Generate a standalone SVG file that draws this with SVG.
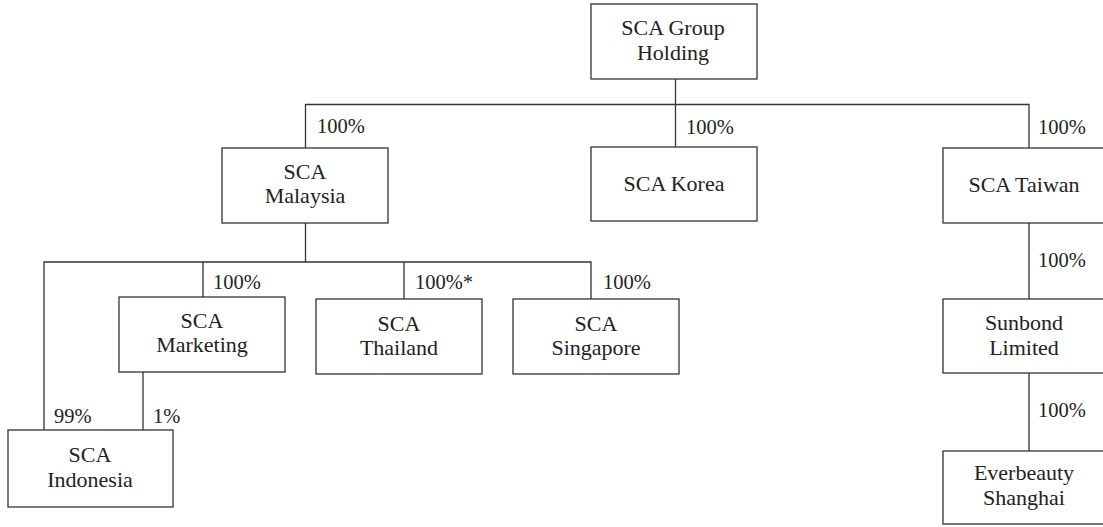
<svg xmlns="http://www.w3.org/2000/svg" width="1103" height="527" viewBox="0 0 1103 527" font-family="Liberation Serif, Times New Roman, Times, serif" font-size="22">
<style>
.box{fill:#fff;stroke:#333;stroke-width:1.3}
.ln{fill:none;stroke:#333;stroke-width:1.3}
.t{fill:#222}
.p{fill:#222;font-size:20.5px}
.c{text-anchor:middle}
</style>
<rect width="1103" height="527" fill="#fff"/>
<g id="connectors" class="ln">
<path d="M675.5 79V104.5M305.5 148V104.5H1029V148M675.5 104.5V147"/>
<path d="M305.5 223V262M44 430V262H591V299M203 262V297M404 262V299"/>
<path d="M143 372V430"/>
<path d="M1029 223V299M1029 373V451"/>
</g>
<g id="labels" class="p">
<text x="317" y="133">100%</text>
<text x="686" y="134">100%</text>
<text x="1038" y="134">100%</text>
<text x="213" y="289">100%</text>
<text x="415" y="289">100%*</text>
<text x="603" y="289">100%</text>
<text x="54" y="423">99%</text>
<text x="153" y="423">1%</text>
<text x="1038" y="267">100%</text>
<text x="1038" y="417">100%</text>
</g>
<g id="holding" class="t"><rect class="box" x="591" y="4" width="166" height="75"/><text class="c" x="673" y="35">SCA Group</text><text class="c" x="673" y="60">Holding</text></g>
<g id="malaysia" class="t"><rect class="box" x="222" y="148" width="166" height="75"/><text class="c" x="305" y="179">SCA</text><text class="c" x="305" y="203">Malaysia</text></g>
<g id="korea" class="t"><rect class="box" x="591" y="147" width="166" height="74"/><text class="c" x="674" y="191">SCA Korea</text></g>
<g id="taiwan" class="t"><rect class="box" x="943" y="148" width="166" height="75"/><text class="c" x="1024" y="192">SCA Taiwan</text></g>
<g id="marketing" class="t"><rect class="box" x="119" y="297" width="166" height="75"/><text class="c" x="202" y="328">SCA</text><text class="c" x="202" y="352">Marketing</text></g>
<g id="thailand" class="t"><rect class="box" x="316" y="299" width="166" height="75"/><text class="c" x="399" y="331">SCA</text><text class="c" x="399" y="355">Thailand</text></g>
<g id="singapore" class="t"><rect class="box" x="513" y="299" width="166" height="75"/><text class="c" x="596" y="331">SCA</text><text class="c" x="596" y="355">Singapore</text></g>
<g id="indonesia" class="t"><rect class="box" x="8" y="430" width="165" height="77"/><text class="c" x="90" y="462">SCA</text><text class="c" x="90" y="487">Indonesia</text></g>
<g id="sunbond" class="t"><rect class="box" x="943" y="299" width="166" height="74"/><text class="c" x="1024" y="330">Sunbond</text><text class="c" x="1024" y="355">Limited</text></g>
<g id="everbeauty" class="t"><rect class="box" x="943" y="451" width="166" height="73"/><text class="c" x="1024" y="480">Everbeauty</text><text class="c" x="1024" y="505">Shanghai</text></g>
</svg>
